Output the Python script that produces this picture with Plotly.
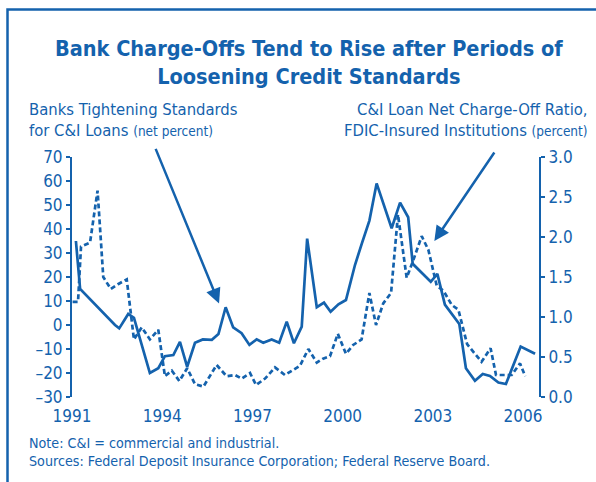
import plotly.graph_objects as go

# Banks tightening standards for C&I loans (net percent), left axis
tight_year = [1991.13, 1991.27, 1992.43, 1992.57, 1992.87, 1993.06, 1993.59, 1993.87,
              1994.09, 1994.37, 1994.59, 1994.83, 1995.09, 1995.35, 1995.65, 1995.87,
              1996.11, 1996.36, 1996.64, 1996.90, 1997.14, 1997.36, 1997.64, 1997.89,
              1998.14, 1998.38, 1998.64, 1998.82, 1999.14, 1999.38, 1999.60, 1999.86,
              2000.11, 2000.41, 2000.64, 2000.89, 2001.13, 2001.63, 2001.91, 2002.18,
              2002.33, 2002.93, 2003.15, 2003.40, 2003.88, 2004.10, 2004.40, 2004.66,
              2004.90, 2005.18, 2005.43, 2005.92, 2006.40]
tight_pct = [35, 15, 0, -1.4, 4.6, 3, -20, -18,
             -13, -12.5, -7, -17.4, -7.4, -6, -6.2, -3.8,
             7.4, -1, -3.4, -8.3, -6, -7.4, -6, -7.4,
             1.4, -7.6, -0.7, 36, 7.4, 9.3, 5.5, 8.6,
             10.4, 25, 34, 43.5, 59, 40.3, 51, 44.9,
             25.5, 18, 21.3, 8.5, 0.4, -18, -23.2, -20.4,
             -21.2, -24, -24.6, -9, -12]

# C&I loan net charge-off ratio, FDIC-insured institutions (percent), right axis
co_year = [1991.02, 1991.20, 1991.30, 1991.60, 1991.85, 1992.04, 1992.29, 1992.53,
           1992.82, 1993.06, 1993.32, 1993.59, 1993.87, 1994.09, 1994.32, 1994.57,
           1994.83, 1995.09, 1995.37, 1995.81, 1996.14, 1996.42, 1996.64, 1996.92,
           1997.12, 1997.42, 1997.75, 1998.08, 1998.32, 1998.58, 1998.86, 1999.14,
           1999.35, 1999.58, 1999.84, 2000.11, 2000.35, 2000.63, 2000.89, 2001.11,
           2001.35, 2001.61, 2001.84, 2002.13, 2002.35, 2002.63, 2002.85, 2003.13,
           2003.35, 2003.63, 2003.85, 2004.14, 2004.38, 2004.62, 2004.92, 2005.10,
           2005.62, 2005.90, 2006.07]
co_ratio = [1.19, 1.19, 1.88, 1.93, 2.58, 1.50, 1.35, 1.41,
            1.47, 0.72, 0.87, 0.72, 0.84, 0.26, 0.33, 0.20,
            0.36, 0.16, 0.13, 0.40, 0.26, 0.275, 0.23, 0.30,
            0.15, 0.23, 0.37, 0.275, 0.33, 0.39, 0.60, 0.43,
            0.48, 0.51, 0.79, 0.54, 0.65, 0.72, 1.30, 0.90,
            1.17, 1.30, 2.28, 1.49, 1.71, 2.01, 1.84, 1.39,
            1.33, 1.15, 1.09, 0.66, 0.55, 0.44, 0.61, 0.275,
            0.275, 0.42, 0.26]

year_ticks = [1991, 1994, 1997, 2000, 2003, 2006]
left_ticks = [70, 60, 50, 40, 30, 20, 10, 0, -10, -20, -30]
right_ticks = [3.0, 2.5, 2.0, 1.5, 1.0, 0.5, 0.0]

BLUE = "#1462ad"
FONT = "DejaVu Sans Condensed, Liberation Sans Narrow, sans-serif"
X0, X1, Y0, Y1 = 72, 539, 157, 397  # plot area in pixels


def px(x):
    return (x - X0) / (X1 - X0)


def py(y):
    return (Y1 - y) / (Y1 - Y0)


xr = [1991, 2006.53]

fig = go.Figure()
fig.add_trace(go.Scatter(x=tight_year, y=tight_pct, mode="lines",
                         line=dict(color=BLUE, width=2.7), yaxis="y"))
fig.add_trace(go.Scatter(x=co_year, y=co_ratio, mode="lines",
                         line=dict(color=BLUE, width=2.7, dash="5px,3px"), yaxis="y2"))

axis_common = dict(showgrid=False, zeroline=False, color=BLUE, linecolor=BLUE,
                   tickcolor=BLUE, linewidth=2, tickwidth=1.5, ticklen=4)

fig.update_layout(
    width=596, height=482,
    margin=dict(l=X0, r=596 - X1, t=Y0, b=482 - Y1),
    paper_bgcolor="white", plot_bgcolor="white",
    showlegend=False,
    font=dict(family=FONT, color=BLUE),
    xaxis=dict(range=xr, showline=False, showgrid=False, zeroline=False,
               tickvals=year_ticks, ticktext=[str(v) for v in year_ticks],
               ticks="outside", ticklen=4, tickcolor="rgba(0,0,0,0)",
               tickfont=dict(size=17, color=BLUE, family=FONT)),
    # baseline at zero of the left axis, with crossing ticks
    xaxis2=dict(range=xr, overlaying="x", anchor="free", position=0.3,
                showticklabels=False, ticks="outside", tick0=1991, dtick=0.75,
                showline=True, **axis_common),
    xaxis3=dict(range=xr, overlaying="x", anchor="free", position=0.3,
                showticklabels=False, ticks="inside", tick0=1991, dtick=0.75,
                showline=False, **axis_common),
    yaxis=dict(range=[-30, 70], tickvals=left_ticks,
               ticktext=[("\u2013" + str(-v)) if v < 0 else str(v) for v in left_ticks],
               ticks="outside", showline=True,
               tickfont=dict(size=17, color=BLUE, family=FONT), **axis_common),
    yaxis3=dict(range=[-30, 70], tickvals=left_ticks, overlaying="y",
                ticks="inside", showline=False, showticklabels=False, **axis_common),
    yaxis2=dict(range=[0, 3], tickvals=right_ticks, overlaying="y", side="right",
                ticktext=["%.1f" % v for v in right_ticks],
                ticks="outside", showline=True,
                tickfont=dict(size=17, color=BLUE, family=FONT), **axis_common),
    yaxis4=dict(range=[0, 3], tickvals=right_ticks, overlaying="y", side="right",
                ticks="inside", showline=False, showticklabels=False, **axis_common),
)

# frame round the chart
fig.add_shape(type="rect", xref="paper", yref="paper",
              x0=px(7.5), x1=px(640), y0=py(540), y1=py(9.5),
              line=dict(color=BLUE, width=2.5))

# title
fig.add_annotation(xref="paper", yref="paper", x=px(309), y=py(62),
                   xanchor="center", yanchor="middle", showarrow=False,
                   text="<b>Bank Charge-Offs Tend to Rise after Periods of<br>Loosening Credit Standards</b>",
                   font=dict(size=21.5, color=BLUE, family=FONT))

# series labels
fig.add_annotation(xref="paper", yref="paper", x=px(27), y=py(120),
                   xanchor="left", yanchor="middle", align="left", showarrow=False,
                   text="Banks Tightening Standards<br>for C&amp;I Loans <span style='font-size:13.5px'>(net percent)</span>",
                   font=dict(size=16.5, color=BLUE, family=FONT))
fig.add_annotation(xref="paper", yref="paper", x=px(590), y=py(120),
                   xanchor="right", yanchor="middle", align="right", showarrow=False,
                   text="C&amp;I Loan Net Charge-Off Ratio,<br>FDIC-Insured Institutions <span style='font-size:13.5px'>(percent)</span>",
                   font=dict(size=16.5, color=BLUE, family=FONT))

# arrows
fig.add_annotation(x=1995.89, y=9.0, xref="x", yref="y", text="",
                   showarrow=True, arrowhead=2, arrowsize=1.2, arrowwidth=2.5,
                   arrowcolor=BLUE, ax=-64, ay=-156)
fig.add_annotation(x=2003.05, y=1.95, xref="x", yref="y2", text="",
                   showarrow=True, arrowhead=2, arrowsize=1.2, arrowwidth=2.5,
                   arrowcolor=BLUE, ax=61, ay=-90)

# notes
fig.add_annotation(xref="paper", yref="paper", x=px(27), y=py(452),
                   xanchor="left", yanchor="middle", align="left", showarrow=False,
                   text="Note: C&amp;I = commercial and industrial.<br>"
                        "Sources: Federal Deposit Insurance Corporation; Federal Reserve Board.",
                   font=dict(size=14.2, color=BLUE, family=FONT))

fig.write_html("out.html", config={"displayModeBar": False},
               post_script="document.body.style.margin='0';")
